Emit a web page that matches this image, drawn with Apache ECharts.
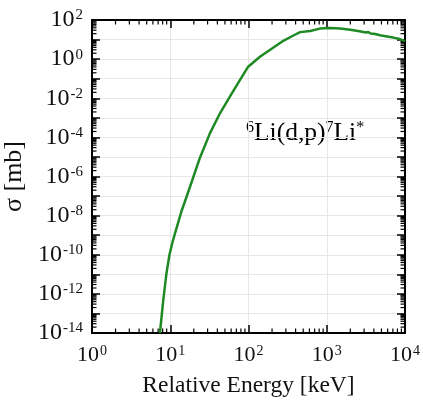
<!DOCTYPE html>
<html>
<head>
<meta charset="utf-8">
<script src="https://cdn.jsdelivr.net/npm/echarts@6/dist/echarts.min.js"></script>
<style>
  html, body { margin: 0; padding: 0; background: #fff; }
  #main { width: 423px; height: 409px; }
</style>
</head>
<body>
<div id="main"></div>
<script>
// energy [keV] and cross section [mb]
var energy = [7.38, 8.15, 8.91, 9.77, 10.7, 11.5, 14.0, 17.9, 23.9, 32.1, 43.2, 57.8, 77.6, 99.1, 140, 204, 282, 380, 457, 617, 813, 1096, 1479, 1995, 2630, 3162, 3388, 3631, 4169, 4786, 5888, 7079, 8318, 10000];
var sigma = [1e-14, 4.9e-13, 1e-11, 1e-10, 4.5e-10, 1.23e-9, 1.78e-8, 3.0e-7, 8.9e-6, 1.6e-4, 1.7e-3, 1.2e-2, 8.5e-2, 0.41, 1.32, 3.7, 8.9, 16.6, 24, 27.5, 36.3, 38.9, 36.3, 31.6, 26.3, 22.9, 24.5, 20.4, 19.1, 16.6, 14.5, 12.6, 11.0, 8.3];

// axis ranges as decade exponents (both axes are log10)
var xExp = [0, 4];
var yExp = [-14, 2];

var serif = 'Liberation Serif';
var lg = Math.log10;

// plot in log10 space on value axes
var lineData = [];
for (var i = 0; i < energy.length; i++) lineData.push([lg(energy[i]), lg(sigma[i])]);

// minor ticks at 2..9 x 10^n
var xMinor = [], yMinor = [];
for (var d = xExp[0]; d < xExp[1]; d++)
  for (var k = 2; k <= 9; k++) xMinor.push([d + lg(k), yExp[0]]);
for (var d2 = yExp[0]; d2 < yExp[1]; d2++)
  for (var k2 = 2; k2 <= 9; k2++) yMinor.push([xExp[0], d2 + lg(k2)]);

function rich(size, supSize) {
  return {
    b: { fontFamily: serif, fontSize: size, color: '#111' },
    e: { fontFamily: serif, fontSize: supSize, color: '#111', verticalAlign: 'top', padding: [0, 0, 0, 1] }
  };
}
function powLabel(v) {
  return '{b|10}{e|' + Math.round(v) + '}';
}

var tickStyle = { color: '#000', width: 1.5 };
var lineStyle = { color: '#000', width: 2 };
var gridStyle = { color: '#e6e6e6', width: 1 };

var chart = echarts.init(document.getElementById('main'));

var option = {
  animation: false,
  grid: { left: 92, right: 18, top: 20, bottom: 76, outerBoundsMode: 'none' },
  xAxis: [{
    type: 'value', min: xExp[0], max: xExp[1], interval: 1,
    axisLine: { onZero: false, lineStyle: lineStyle },
    axisTick: { inside: true, length: 8, lineStyle: tickStyle },
    splitLine: { show: true, lineStyle: gridStyle },
    axisLabel: { margin: 11, formatter: powLabel, rich: rich(22, 14) },
    name: 'Relative Energy [keV]', nameLocation: 'middle', nameGap: 41,
    nameTextStyle: { fontFamily: serif, fontSize: 23.5, color: '#111' }
  }, {
    type: 'value', min: xExp[0], max: xExp[1], interval: 1, position: 'top',
    axisLine: { onZero: false, lineStyle: lineStyle },
    axisTick: { inside: true, length: 8, lineStyle: tickStyle },
    splitLine: { show: false },
    axisLabel: { show: false }
  }],
  yAxis: [{
    type: 'value', min: yExp[0], max: yExp[1], interval: 1,
    axisLine: { onZero: false, lineStyle: lineStyle },
    axisTick: { inside: true, length: 8, lineStyle: tickStyle },
    splitLine: { show: true, lineStyle: gridStyle },
    axisLabel: {
      margin: 9,
      formatter: function (v) { return v % 2 === 0 ? powLabel(v) : ''; },
      rich: rich(24, 15)
    },
    name: 'σ [mb]', nameLocation: 'middle', nameGap: 49,
    nameTextStyle: { fontFamily: serif, fontSize: 26, color: '#111' }
  }, {
    type: 'value', min: yExp[0], max: yExp[1], interval: 1, position: 'right',
    axisLine: { onZero: false, lineStyle: lineStyle },
    axisTick: { inside: true, length: 8, lineStyle: tickStyle },
    splitLine: { show: false },
    axisLabel: { show: false }
  }],
  graphic: [{
    type: 'text', left: 246, top: 120,
    style: {
      text: '{s|6}{m|Li(d,p)}{s|7}{m|Li}{s|*}',
      rich: {
        m: { fontFamily: serif, fontSize: 25.5, color: '#111' },
        s: { fontFamily: serif, fontSize: 16, color: '#111', verticalAlign: 'top' }
      }
    }
  }],
  series: [{
    type: 'line',
    data: lineData,
    showSymbol: false,
    lineStyle: { color: '#1f8a24', width: 2.5 },
    z: 5
  }, {
    // minor ticks on bottom and top edges
    type: 'custom',
    data: xMinor,
    silent: true,
    renderItem: function (params, api) {
      var b = api.coord([api.value(0), yExp[0]]);
      var t = api.coord([api.value(0), yExp[1]]);
      var st = { stroke: '#000', lineWidth: 1.2 };
      return { type: 'group', children: [
        { type: 'line', shape: { x1: b[0], y1: b[1], x2: b[0], y2: b[1] - 4.5 }, style: st },
        { type: 'line', shape: { x1: t[0], y1: t[1], x2: t[0], y2: t[1] + 4.5 }, style: st }
      ] };
    }
  }, {
    // minor ticks on left and right edges
    type: 'custom',
    data: yMinor,
    silent: true,
    renderItem: function (params, api) {
      var l = api.coord([xExp[0], api.value(1)]);
      var r = api.coord([xExp[1], api.value(1)]);
      var st = { stroke: '#000', lineWidth: 1.2 };
      return { type: 'group', children: [
        { type: 'line', shape: { x1: l[0], y1: l[1], x2: l[0] + 4.5, y2: l[1] }, style: st },
        { type: 'line', shape: { x1: r[0], y1: r[1], x2: r[0] - 4.5, y2: r[1] }, style: st }
      ] };
    }
  }]
};

chart.setOption(option);
</script>
</body>
</html>
